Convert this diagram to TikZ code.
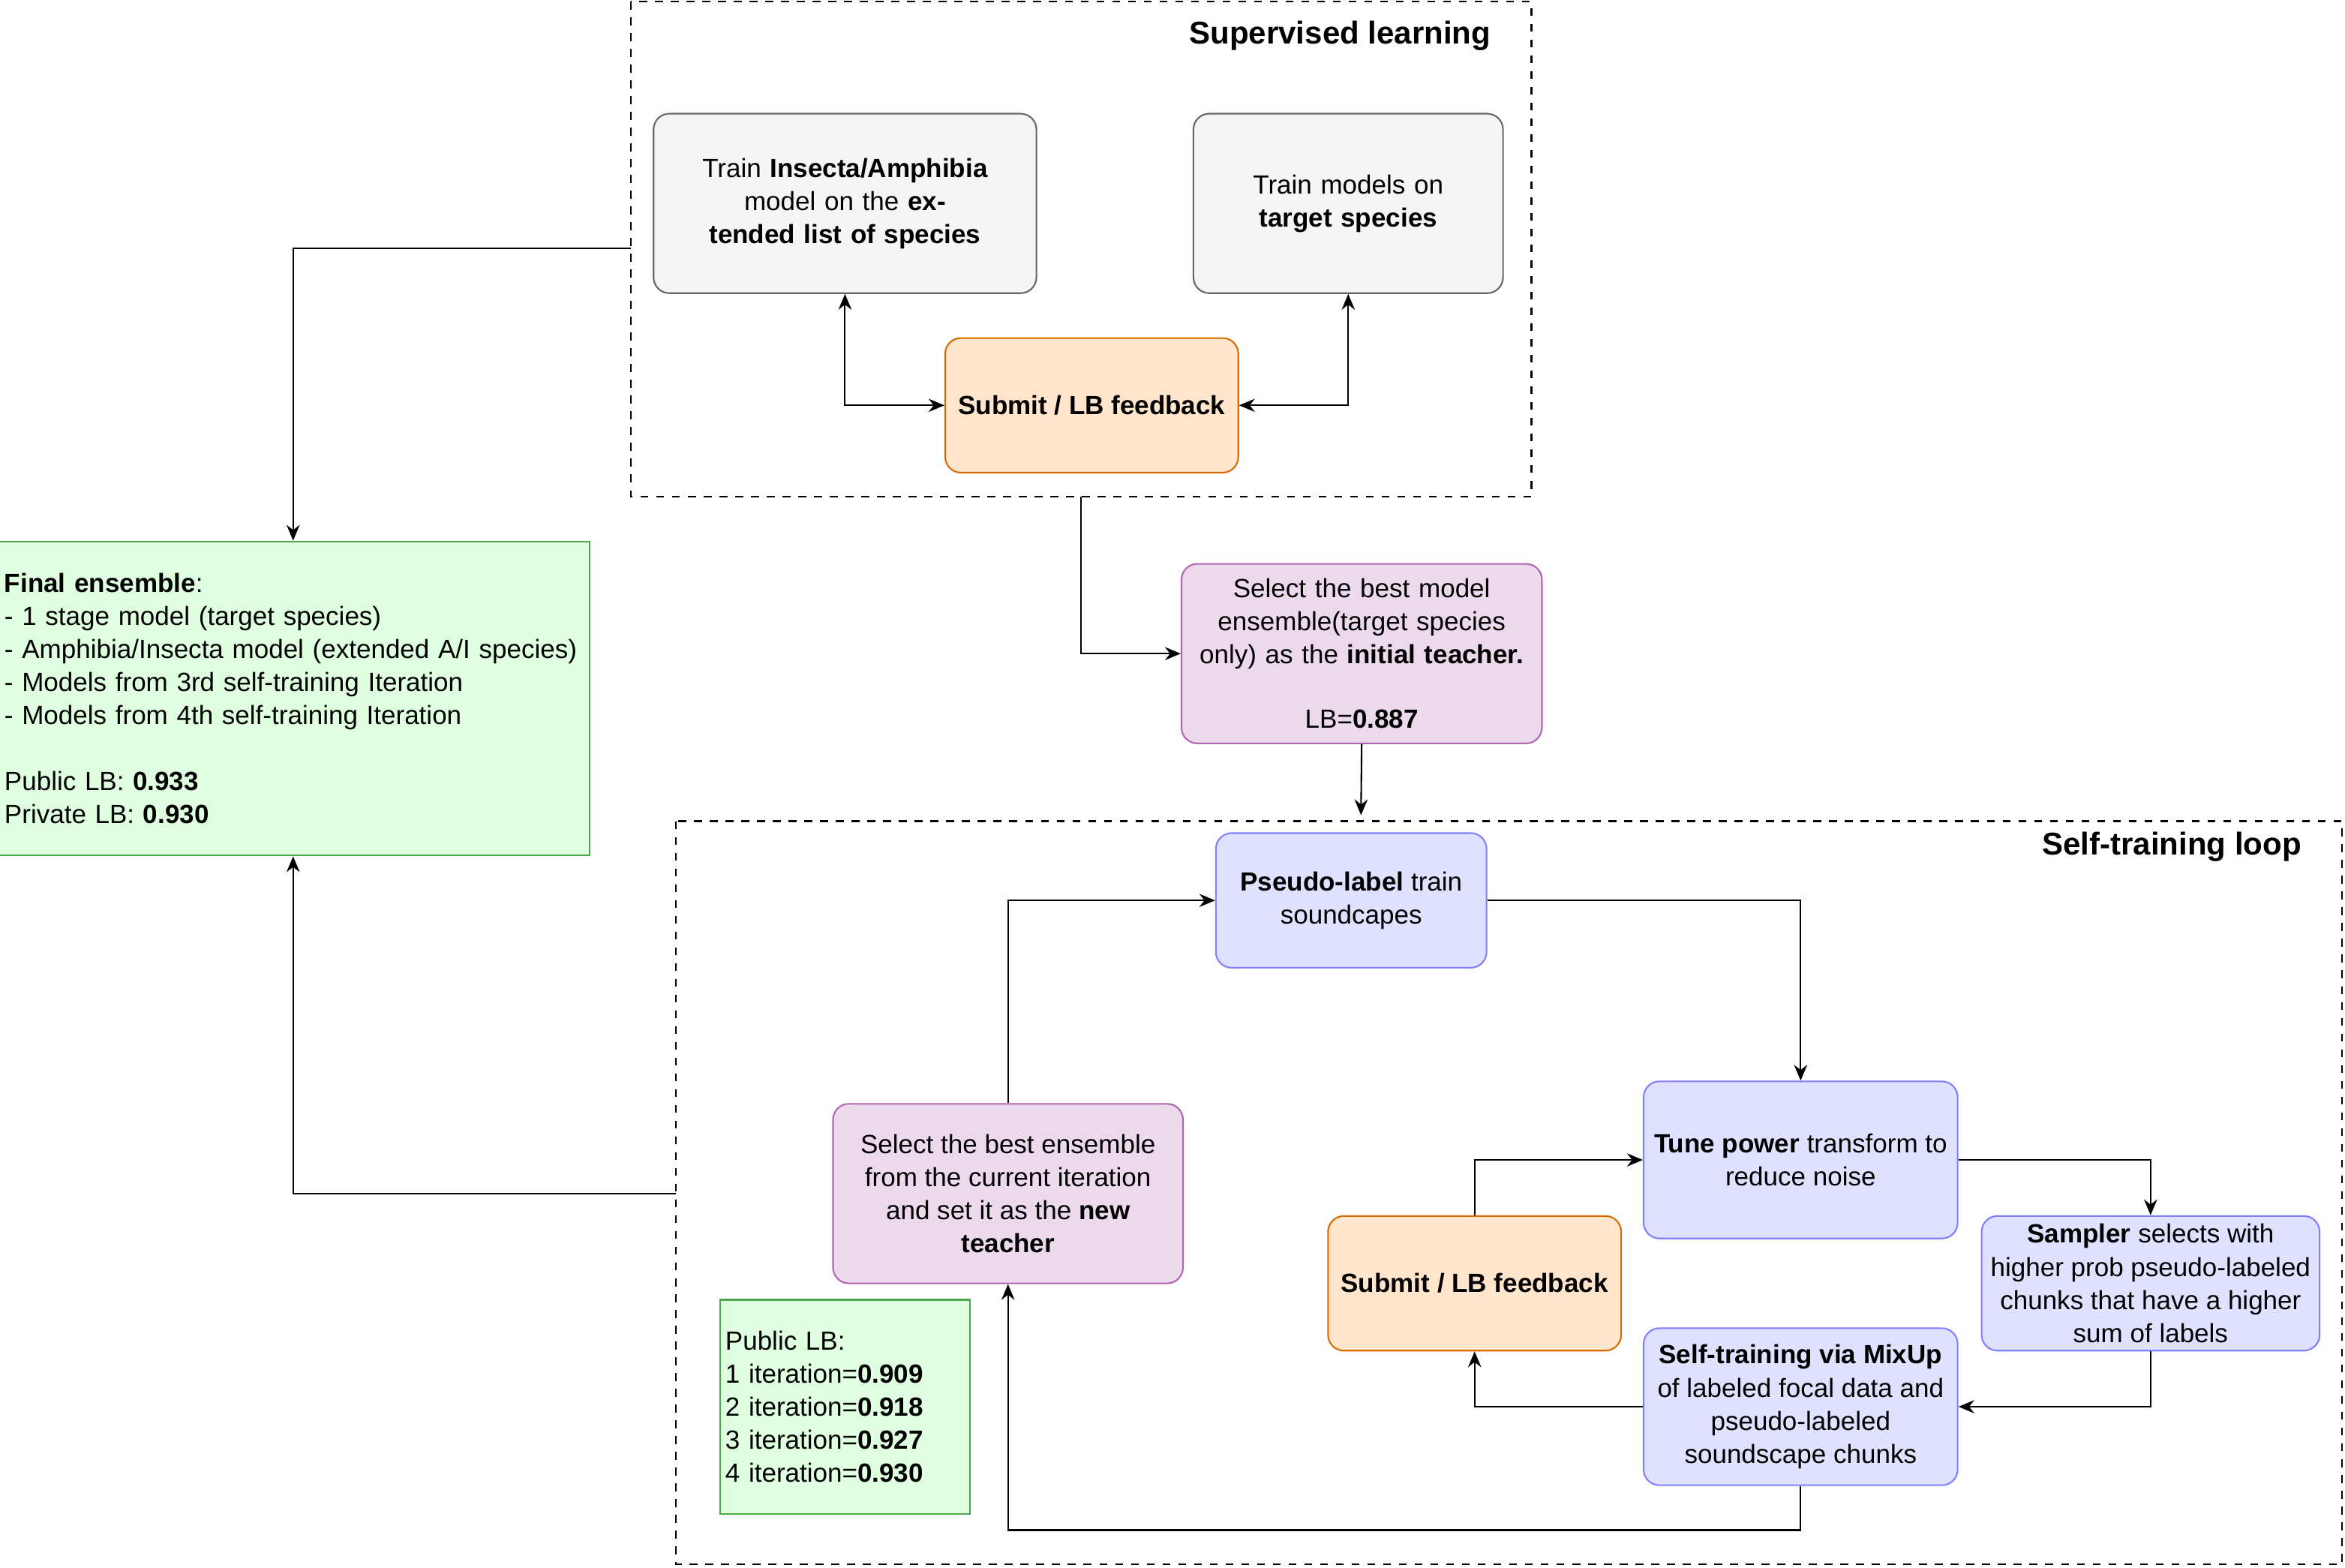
\documentclass[tikz,border=0pt]{standalone}
\usepackage{fontspec}
\setmainfont{Liberation Sans}
\usetikzlibrary{arrows.meta}
\begin{document}
\begin{tikzpicture}[x=0.02cm,y=-0.02cm,
  bx/.style={draw,rounded corners=6pt,line width=0.6pt,align=center,font=\fontsize{10}{12.6}\selectfont,inner sep=2pt},
  gray/.style={bx,fill=black!4,draw=black!60},
  org/.style={bx,fill=orange!20,draw=orange!85!black},
  pur/.style={bx,fill=violet!15,draw=violet!60},
  blu/.style={bx,fill=blue!12,draw=blue!50},
  grn/.style={draw=green!50!black!70,fill=green!12,line width=0.6pt,align=left,font=\fontsize{10}{12.6}\selectfont},
  frame/.style={draw,dashed,line width=0.6pt},
  arr/.style={-{Stealth[length=6pt,width=5pt]},line width=0.6pt},
  darr/.style={{Stealth[length=6pt,width=5pt]}-{Stealth[length=6pt,width=5pt]},line width=0.6pt},
  ttl/.style={font=\fontsize{12}{14}\selectfont\bfseries,anchor=east}]
\useasboundingbox (0,0) rectangle (1568,1048);
\draw[frame] (422,1) rectangle (1024,332);
\coordinate (sup) at (422,166);
\node[ttl] at (1003,24) {Supervised learning};
\draw[frame] (452,549) rectangle (1566,1046);
\node[ttl] at (1545,566) {Self-training loop};

\node[gray,minimum width=256*0.02cm,minimum height=120*0.02cm,text width=240*0.02cm] (A) at (565,136) {Train \textbf{Insecta/Amphibia} model on the \textbf{extended list of species}};
\node[gray,minimum width=207*0.02cm,minimum height=120*0.02cm,text width=195*0.02cm] (B) at (901.5,136) {Train models on \textbf{target species}};
\node[org,minimum width=196*0.02cm,minimum height=90*0.02cm] (S1) at (730,271) {\textbf{Submit / LB feedback}};
\draw[darr] (A.south) |- (S1.west);
\draw[darr] (B.south) |- (S1.east);

\node[grn,minimum width=392*0.02cm,minimum height=210*0.02cm,text width=386*0.02cm,inner sep=3pt] (F) at (196,467) {\textbf{Final ensemble}:\\- 1 stage model (target species)\\- Amphibia/Insecta model (extended A/I species)\\- Models from 3rd self-training Iteration\\- Models from 4th self-training Iteration\\[12.6pt]Public LB: \textbf{0.933}\\Private LB: \textbf{0.930}\\[12pt]};
\draw[arr] (sup) -| (F.north);

\node[pur,minimum width=241*0.02cm,minimum height=120*0.02cm,text width=230*0.02cm] (T0) at (910.5,437) {Select the best model ensemble(target species only) as the \textbf{initial teacher.}\\[12pt]LB=\textbf{0.887}};
\coordinate (supb) at (723,332);
\draw[arr] (supb) |- (T0.west);
\coordinate (stt) at (910,545);
\draw[arr] (T0.south) -- (stt);

\node[blu,minimum width=181*0.02cm,minimum height=90*0.02cm] (P) at (903.5,602) {\textbf{Pseudo-label} train\\soundcapes};
\node[blu,minimum width=210*0.02cm,minimum height=105*0.02cm] (Tu) at (1204,775.5) {\textbf{Tune power} transform to\\reduce noise};
\node[blu,minimum width=226*0.02cm,minimum height=90*0.02cm] (Sa) at (1438,858) {\textbf{Sampler} selects with\\higher prob pseudo-labeled\\chunks that have a higher\\sum of labels};
\node[blu,minimum width=210*0.02cm,minimum height=105*0.02cm] (M) at (1204,940.5) {\textbf{Self-training via MixUp}\\of labeled focal data and\\pseudo-labeled\\soundscape chunks};
\node[org,minimum width=196*0.02cm,minimum height=90*0.02cm] (S2) at (986,858) {\textbf{Submit / LB feedback}};
\node[pur,minimum width=234*0.02cm,minimum height=120*0.02cm] (NT) at (674,798) {Select the best ensemble\\from the current iteration\\and set it as the \textbf{new}\\\textbf{teacher}};
\node[grn,minimum width=166*0.02cm,minimum height=143*0.02cm,text width=160*0.02cm,inner sep=2pt] (G) at (565,940.5) {Public LB:\\1 iteration=\textbf{0.909}\\2 iteration=\textbf{0.918}\\3 iteration=\textbf{0.927}\\4 iteration=\textbf{0.930}};

\draw[arr] (P.east) -| (Tu.north);
\draw[arr] (Tu.east) -| (Sa.north);
\draw[arr] (Sa.south) |- (M.east);
\draw[arr] (M.west) -| (S2.south);
\draw[arr] (S2.north) |- (Tu.west);
\draw[arr] (M.south) |- (674,1023) -- (NT.south);
\draw[arr] (NT.north) |- (P.west);
\coordinate (stl) at (452,798);
\draw[arr] (stl) -| (F.south);
\end{tikzpicture}
\end{document}
